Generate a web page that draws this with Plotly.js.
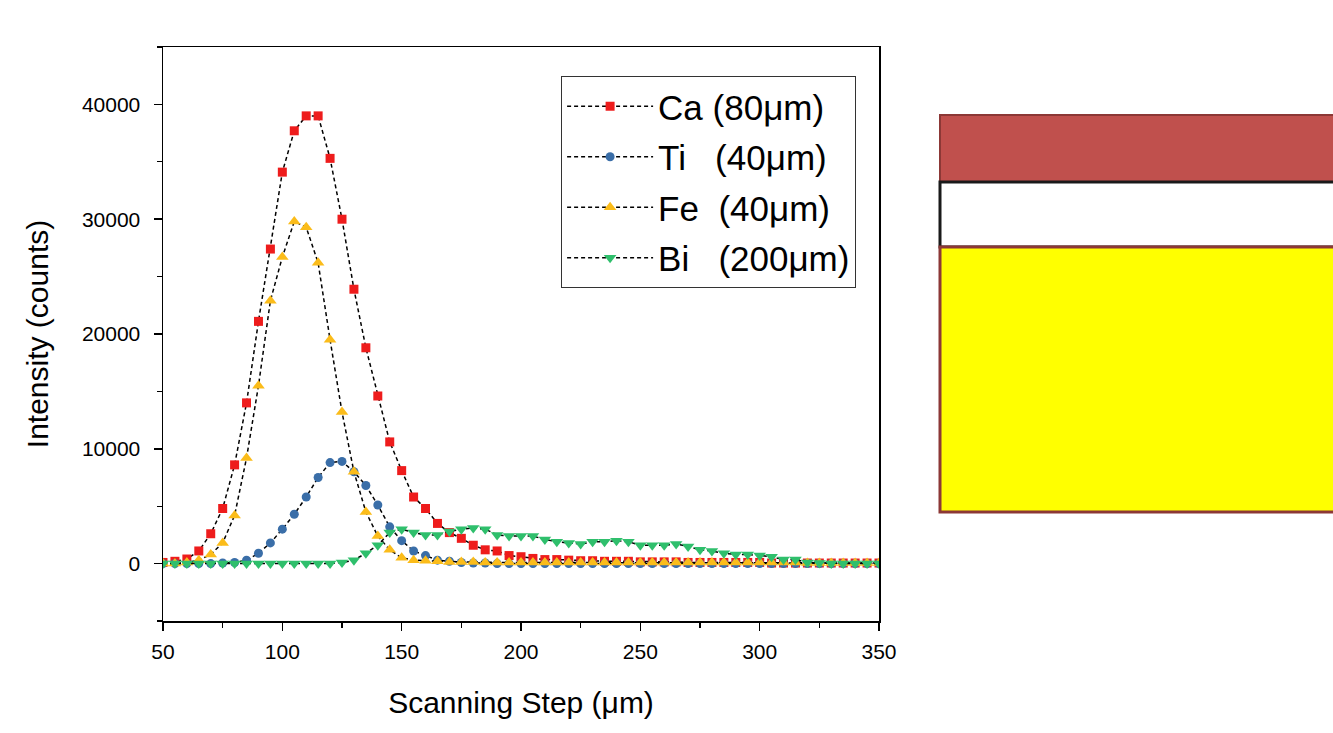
<!DOCTYPE html>
<html>
<head>
<meta charset="utf-8">
<script src="https://cdn.plot.ly/plotly-3.0.1.min.js"></script>
<style>html,body{margin:0;padding:0;background:#fff;}#chart{width:1333px;height:733px;}</style>
</head>
<body>
<div id="chart"></div>
<script>
var steps = [50,55,60,65,70,75,80,85,90,95,
  100,105,110,115,120,125,130,135,140,145,
  150,155,160,165,170,175,180,185,190,195,
  200,205,210,215,220,225,230,235,240,245,
  250,255,260,265,270,275,280,285,290,295,
  300,305,310,315,320,325,330,335,340,345,350];

var caValues = [100,200,400,1100,2600,4800,8600,14000,21100,27400,
  34100,37700,39000,39000,35300,30000,23900,18800,14600,10600,
  8100,5800,4800,3500,2700,2200,1600,1200,1100,700,
  600,450,350,350,300,250,250,200,200,200,
  150,150,150,150,100,100,100,100,100,100,
  100,50,50,50,50,50,50,50,50,50,50];

var tiValues = [0,0,0,0,0,50,100,300,900,1800,
  3000,4300,5800,7500,8800,8900,8000,6800,5100,3200,
  2000,1100,700,300,200,100,50,50,0,0,
  0,0,0,0,0,0,0,0,0,0,
  0,0,0,0,0,0,0,0,0,0,
  0,0,0,0,0,0,0,0,0,0,0];

var feValues = [0,0,100,300,800,1800,4200,9200,15500,22900,
  26700,29800,29300,26200,19500,13200,8000,4500,2400,1200,
  500,300,250,200,150,150,150,100,100,100,
  100,100,100,100,100,100,100,100,100,100,
  100,100,100,100,100,100,100,100,100,100,
  100,100,100,100,50,50,50,50,50,50,50];

var biValues = [0,0,0,0,0,0,0,0,0,0,
  0,0,0,0,0,100,300,900,1600,2700,
  3000,2700,2500,2500,2800,3000,3100,3000,2500,2400,
  2400,2400,2100,1900,1800,1700,1900,1900,2000,1900,
  1600,1600,1600,1700,1500,1200,1100,900,800,800,
  700,600,350,350,100,50,0,0,0,0,0];

var seriesNames = ['Ca (80\u03bcm)', 'Ti\u00a0\u00a0\u00a0(40\u03bcm)', 'Fe\u00a0\u00a0(40\u03bcm)', 'Bi\u00a0\u00a0\u00a0(200\u03bcm)'];
var seriesColors = ['#ee1c1c', '#3a6ea8', '#fbbc1a', '#2fbf6c'];
var seriesSymbols = ['square', 'circle', 'triangle-up', 'triangle-down'];
var seriesSizes = [9, 9, 11, 11];
var seriesData = [caValues, tiValues, feValues, biValues];

var xTickLabels = ['50','100','150','200','250','300','350'];
var yTickLabels = ['0','10000','20000','30000','40000'];

var font = 'Arial, "Liberation Sans", sans-serif';

var traces = seriesData.map(function(vals, i){
  return {
    x: steps, y: vals, type: 'scatter', mode: 'lines+markers',
    name: seriesNames[i], legendgroup: 'g' + i,
    line: {color: '#000', width: 1.5, dash: '4px,3px'},
    marker: {symbol: seriesSymbols[i], color: seriesColors[i], size: seriesSizes[i], line: {width: 0}}
  };
});

var layout = {
  width: 1333, height: 733,
  margin: {l: 163, r: 454, t: 47, b: 112},
  paper_bgcolor: '#fff', plot_bgcolor: '#fff',
  font: {family: font, color: '#000'},
  showlegend: true,
  legend: {
    x: 0.556, y: 0.9495, xanchor: 'left', yanchor: 'top',
    bgcolor: '#fff', bordercolor: '#333', borderwidth: 1,
    font: {family: font, size: 35, color: '#000'},
    tracegroupgap: 2, itemwidth: 86, traceorder: 'grouped'
  },
  xaxis: {
    range: [50, 350], tickmode: 'array',
    tickvals: xTickLabels.map(Number), ticktext: xTickLabels,
    showline: true, linecolor: '#000', linewidth: 1.5, mirror: true,
    ticks: 'outside', ticklen: 8, tickwidth: 1.5, tickcolor: '#000',
    ticklabelstandoff: 3,
    minor: {dtick: 25, tick0: 50, ticks: 'outside', ticklen: 5, tickwidth: 1.2, tickcolor: '#000'},
    showgrid: false, zeroline: false,
    tickfont: {family: font, size: 21, color: '#000'},
    title: {text: 'Scanning Step (\u03bcm)', font: {family: font, size: 30, color: '#000'}, standoff: 30}
  },
  yaxis: {
    range: [-5000, 45000], tickmode: 'array',
    tickvals: yTickLabels.map(Number), ticktext: yTickLabels,
    showline: true, linecolor: '#000', linewidth: 1.5, mirror: true,
    ticks: 'outside', ticklen: 8, tickwidth: 1.5, tickcolor: '#000',
    ticklabelstandoff: 9,
    minor: {dtick: 5000, tick0: -5000, ticks: 'outside', ticklen: 5, tickwidth: 1.2, tickcolor: '#000'},
    showgrid: false, zeroline: false,
    tickfont: {family: font, size: 21, color: '#000'},
    title: {text: 'Intensity (counts)', font: {family: font, size: 30, color: '#000'}, standoff: 24}
  },
  shapes: [
    {type: 'rect', xref: 'paper', yref: 'paper', x0: 1.0852, x1: 1.66, y0: 0.7648, y1: 0.8815,
     fillcolor: '#c0504d', line: {color: '#8c3836', width: 2}, layer: 'above'},
    {type: 'rect', xref: 'paper', yref: 'paper', x0: 1.0852, x1: 1.66, y0: 0.6516, y1: 0.7648,
     fillcolor: '#ffffff', line: {color: '#1a1a1a', width: 3}, layer: 'above'},
    {type: 'rect', xref: 'paper', yref: 'paper', x0: 1.0852, x1: 1.66, y0: 0.1899, y1: 0.6516,
     fillcolor: '#ffff00', line: {color: '#8c3836', width: 3}, layer: 'above'}
  ]
};

Plotly.newPlot('chart', traces, layout, {displayModeBar: false, staticPlot: true});
</script>
</body>
</html>
